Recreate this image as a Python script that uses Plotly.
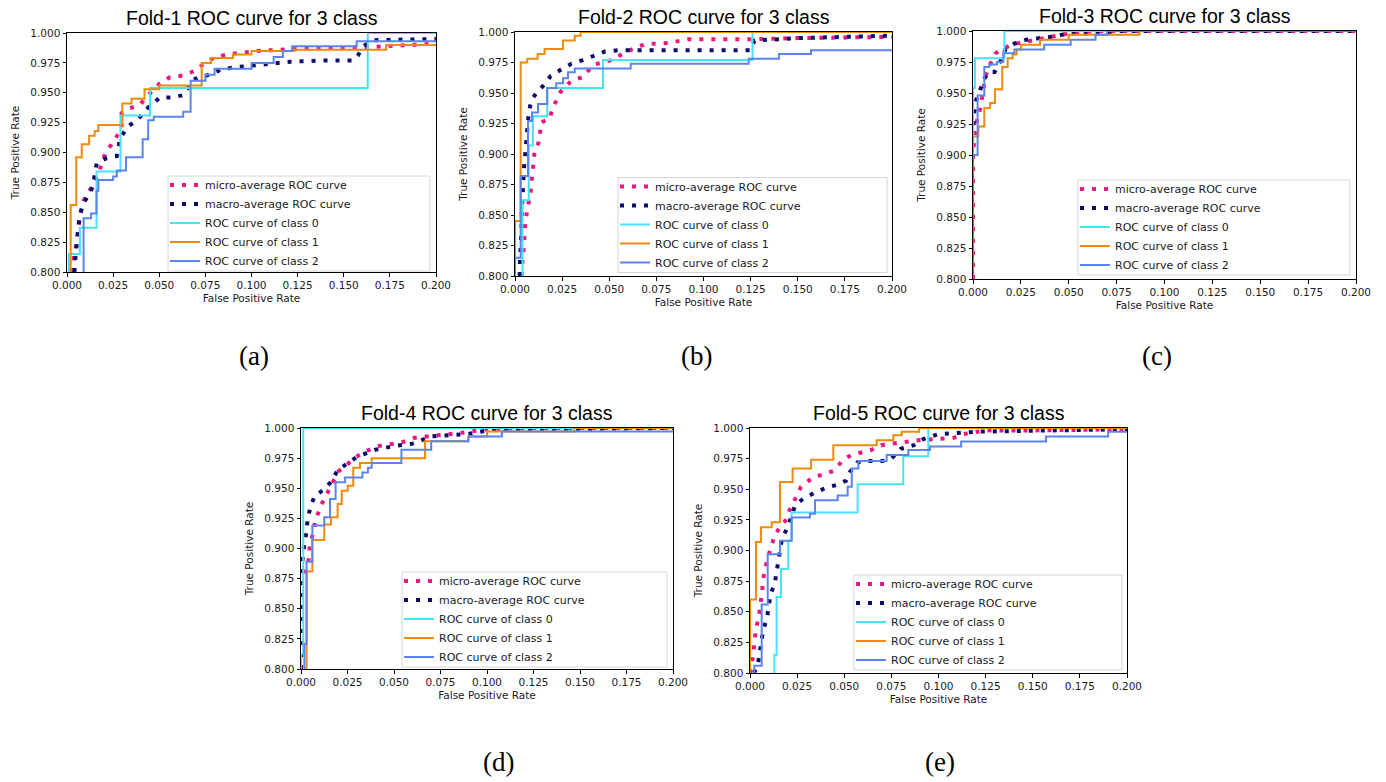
import plotly.graph_objects as go

W, H = 1386, 782

# ---------------- data ----------------
# Fold 1
f1_micro_fpr = [0.002, 0.0034, 0.0053, 0.007, 0.0098, 0.0143, 0.0188, 0.0206, 0.0251, 0.0296, 0.0296, 0.034, 0.0396, 0.044, 0.0504, 0.0558, 0.0612, 0.069, 0.0756, 0.081, 0.0866, 0.103, 0.13, 0.16, 0.2]
f1_micro_tpr = [0.800, 0.809, 0.826, 0.848, 0.863, 0.873, 0.890, 0.899, 0.909, 0.920, 0.933, 0.937, 0.940, 0.948, 0.958, 0.963, 0.964, 0.968, 0.976, 0.980, 0.982, 0.985, 0.987, 0.988, 0.991]
f1_macro_fpr = [0.004, 0.0043, 0.0067, 0.0085, 0.0139, 0.0161, 0.0211, 0.027, 0.0288, 0.0332, 0.0387, 0.0428, 0.0504, 0.0567, 0.063, 0.0685, 0.0766, 0.083, 0.0893, 0.0956, 0.103, 0.108, 0.1145, 0.121, 0.14, 0.155, 0.1576, 0.1607, 0.166, 0.2]
f1_macro_tpr = [0.800, 0.808, 0.845, 0.856, 0.871, 0.891, 0.895, 0.897, 0.912, 0.922, 0.928, 0.936, 0.946, 0.946, 0.948, 0.961, 0.965, 0.969, 0.971, 0.972, 0.973, 0.974, 0.9755, 0.976, 0.977, 0.977, 0.981, 0.989, 0.994, 0.995]
f1_c0_fpr = [0.001, 0.001, 0.007, 0.016, 0.029, 0.045, 0.163, 0.2]
f1_c0_tpr = [0.700, 0.815, 0.837, 0.884, 0.931, 0.954, 1.000, 1.000]
f1_c1_fpr = [0.002, 0.002, 0.005, 0.008, 0.012, 0.015, 0.017, 0.030, 0.035, 0.042, 0.050, 0.073, 0.078, 0.090, 0.100, 0.123, 0.173, 0.2]
f1_c1_tpr = [0.700, 0.856, 0.896, 0.907, 0.914, 0.918, 0.923, 0.941, 0.945, 0.953, 0.956, 0.975, 0.979, 0.982, 0.985, 0.986, 0.990, 0.990]
f1_c2_fpr = [0.009, 0.009, 0.013, 0.016, 0.017, 0.025, 0.027, 0.032, 0.041, 0.044, 0.047, 0.063, 0.067, 0.075, 0.080, 0.100, 0.112, 0.117, 0.122, 0.157, 0.2]
f1_c2_tpr = [0.700, 0.845, 0.849, 0.868, 0.877, 0.880, 0.885, 0.896, 0.911, 0.927, 0.930, 0.934, 0.960, 0.965, 0.970, 0.975, 0.980, 0.985, 0.989, 0.993, 0.993]

# Fold 2
f2_micro_fpr = [0.0035, 0.0037, 0.0048, 0.0055, 0.0083, 0.0095, 0.0104, 0.0127, 0.014, 0.0184, 0.0198, 0.0242, 0.0299, 0.036, 0.0414, 0.051, 0.0608, 0.0688, 0.0812, 0.0918, 0.125, 0.15, 0.2]
f2_micro_tpr = [0.800, 0.808, 0.825, 0.845, 0.869, 0.886, 0.902, 0.910, 0.926, 0.929, 0.937, 0.951, 0.960, 0.963, 0.973, 0.977, 0.985, 0.990, 0.991, 0.994, 0.994, 0.995, 0.996]
f2_macro_fpr = [0.0025, 0.0025, 0.0034, 0.0037, 0.0048, 0.006, 0.0073, 0.0087, 0.0118, 0.0157, 0.0189, 0.0242, 0.0299, 0.036, 0.0419, 0.0476, 0.0546, 0.125, 0.127, 0.15, 0.175, 0.2]
f2_macro_tpr = [0.800, 0.808, 0.837, 0.856, 0.889, 0.916, 0.934, 0.944, 0.951, 0.957, 0.964, 0.969, 0.974, 0.977, 0.981, 0.984, 0.985, 0.985, 0.993, 0.995, 0.996, 0.997]
f2_c0_fpr = [0.004, 0.004, 0.0073, 0.0095, 0.0171, 0.0467, 0.126, 0.2]
f2_c0_tpr = [0.700, 0.862, 0.907, 0.931, 0.954, 0.977, 1.000, 1.000]
f2_c1_fpr = [0.0, 0.0, 0.003, 0.0065, 0.012, 0.0157, 0.0255, 0.0317, 0.0348, 0.2]
f2_c1_tpr = [0.700, 0.845, 0.975, 0.978, 0.982, 0.986, 0.993, 0.997, 1.000, 1.000]
f2_c2_fpr = [0.0, 0.0, 0.003, 0.0069, 0.009, 0.0122, 0.0171, 0.0219, 0.0255, 0.0281, 0.0317, 0.0614, 0.124, 0.14, 0.157, 0.2]
f2_c2_tpr = [0.700, 0.815, 0.882, 0.927, 0.934, 0.941, 0.954, 0.958, 0.962, 0.967, 0.970, 0.974, 0.978, 0.982, 0.985, 0.985]

# Fold 3
f3_micro_fpr = [0.0, 0.0, 0.0007, 0.0024, 0.0037, 0.0045, 0.0066, 0.008, 0.0118, 0.015, 0.0202, 0.0263, 0.0324, 0.0393, 0.0463, 0.055, 0.065, 0.2]
f3_micro_tpr = [0.800, 0.900, 0.913, 0.931, 0.937, 0.946, 0.964, 0.970, 0.982, 0.985, 0.989, 0.991, 0.993, 0.995, 0.997, 0.999, 1.000, 1.000]
f3_macro_fpr = [0.0003, 0.0005, 0.0016, 0.0038, 0.0061, 0.0085, 0.0113, 0.0148, 0.0169, 0.0218, 0.0277, 0.0334, 0.0395, 0.0465, 0.0526, 0.0595, 0.0717, 0.0778, 0.2]
f3_macro_tpr = [0.924, 0.932, 0.944, 0.954, 0.962, 0.967, 0.967, 0.977, 0.985, 0.990, 0.993, 0.994, 0.995, 0.997, 0.998, 0.998, 0.999, 1.000, 1.000]
f3_c0_fpr = [0.0, 0.0, 0.001, 0.0164, 0.2]
f3_c0_tpr = [0.700, 0.954, 0.978, 1.000, 1.000]
f3_c1_fpr = [0.0, 0.0, 0.0028, 0.0059, 0.0089, 0.0115, 0.0153, 0.0181, 0.0207, 0.0228, 0.0251, 0.035, 0.05, 0.087, 0.2]
f3_c1_tpr = [0.700, 0.915, 0.923, 0.938, 0.942, 0.953, 0.971, 0.978, 0.981, 0.985, 0.989, 0.993, 0.997, 1.000, 1.000]
f3_c2_fpr = [0.0, 0.0, 0.0024, 0.0059, 0.0085, 0.0125, 0.0158, 0.0216, 0.0372, 0.051, 0.064, 0.070, 0.2]
f3_c2_tpr = [0.700, 0.900, 0.948, 0.971, 0.973, 0.975, 0.982, 0.985, 0.989, 0.993, 0.997, 1.000, 1.000]

# Fold 4
f4_micro_fpr = [0.0, 0.0, 0.0039, 0.0048, 0.0066, 0.0075, 0.0108, 0.0152, 0.0201, 0.025, 0.0296, 0.0353, 0.0416, 0.0541, 0.0613, 0.0738, 0.0864, 0.1, 0.12, 0.2]
f4_micro_tpr = [0.800, 0.870, 0.887, 0.904, 0.913, 0.922, 0.936, 0.949, 0.964, 0.970, 0.976, 0.981, 0.985, 0.988, 0.992, 0.994, 0.996, 0.999, 1.000, 1.000]
f4_macro_fpr = [0.0, 0.0, 0.001, 0.0022, 0.003, 0.0036, 0.0054, 0.0075, 0.0125, 0.0165, 0.0197, 0.0254, 0.03, 0.035, 0.04, 0.05, 0.06, 0.07, 0.08, 0.09, 0.1, 0.12, 0.2]
f4_macro_tpr = [0.800, 0.870, 0.895, 0.905, 0.915, 0.925, 0.936, 0.944, 0.949, 0.956, 0.965, 0.971, 0.976, 0.979, 0.982, 0.985, 0.987, 0.993, 0.994, 0.995, 0.998, 0.999, 1.000]
f4_c0_fpr = [0.0, 0.0, 0.0012, 0.2]
f4_c0_tpr = [0.700, 0.8125, 1.000, 1.000]
f4_c1_fpr = [0.003, 0.003, 0.0061, 0.0125, 0.0161, 0.0197, 0.0219, 0.0251, 0.0281, 0.0317, 0.038, 0.0667, 0.09, 0.1, 0.147, 0.2]
f4_c1_tpr = [0.700, 0.881, 0.907, 0.920, 0.926, 0.937, 0.948, 0.952, 0.967, 0.971, 0.975, 0.989, 0.993, 0.997, 1.000, 1.000]
f4_c2_fpr = [0.0018, 0.0018, 0.003, 0.0061, 0.0125, 0.0156, 0.0186, 0.0237, 0.033, 0.036, 0.038, 0.054, 0.070, 0.090, 0.108, 0.2]
f4_c2_tpr = [0.700, 0.821, 0.889, 0.919, 0.926, 0.941, 0.955, 0.959, 0.963, 0.967, 0.971, 0.982, 0.989, 0.993, 0.997, 0.997]

# Fold 5
f5_micro_fpr = [0.0, 0.0009, 0.0018, 0.0023, 0.003, 0.0053, 0.0065, 0.0076, 0.0106, 0.0133, 0.0159, 0.0186, 0.0207, 0.0271, 0.0336, 0.0389, 0.0442, 0.0501, 0.054, 0.0593, 0.0642, 0.0695, 0.0796, 0.0844, 0.0893, 0.1, 0.108, 0.113, 0.125, 0.15, 0.2]
f5_micro_tpr = [0.800, 0.806, 0.8155, 0.824, 0.834, 0.852, 0.867, 0.8835, 0.900, 0.913, 0.919, 0.924, 0.932, 0.952, 0.960, 0.962, 0.965, 0.975, 0.978, 0.980, 0.982, 0.986, 0.9875, 0.989, 0.990, 0.991, 0.992, 0.995, 0.998, 0.998, 0.999]
f5_macro_fpr = [0.002, 0.004, 0.005, 0.006, 0.007, 0.009, 0.010, 0.011, 0.013, 0.014, 0.015, 0.016, 0.017, 0.020, 0.022, 0.024, 0.028, 0.034, 0.040, 0.047, 0.051, 0.053, 0.057, 0.062, 0.070, 0.075, 0.080, 0.087, 0.092, 0.100, 0.120, 0.150, 0.2]
f5_macro_tpr = [0.800, 0.805, 0.815, 0.825, 0.835, 0.845, 0.855, 0.865, 0.872, 0.882, 0.892, 0.902, 0.910, 0.919, 0.928, 0.937, 0.942, 0.947, 0.951, 0.954, 0.957, 0.964, 0.972, 0.973, 0.973, 0.975, 0.983, 0.986, 0.991, 0.995, 0.997, 0.998, 0.999]
f5_c0_fpr = [0.0129, 0.0129, 0.0141, 0.0164, 0.0203, 0.0221, 0.0571, 0.0813, 0.0946, 0.2]
f5_c0_tpr = [0.700, 0.815, 0.862, 0.885, 0.908, 0.931, 0.954, 0.977, 1.000, 1.000]
f5_c1_fpr = [0.0, 0.0, 0.0032, 0.0058, 0.0115, 0.0159, 0.0226, 0.0324, 0.0442, 0.0672, 0.076, 0.0805, 0.0897, 0.2]
f5_c1_tpr = [0.700, 0.860, 0.907, 0.919, 0.923, 0.956, 0.967, 0.974, 0.986, 0.990, 0.994, 0.997, 1.000, 1.000]
f5_c2_fpr = [0.0023, 0.0023, 0.0062, 0.0094, 0.0159, 0.0221, 0.0318, 0.0345, 0.0465, 0.0518, 0.054, 0.0575, 0.0725, 0.084, 0.0955, 0.112, 0.157, 0.19, 0.2]
f5_c2_tpr = [0.700, 0.806, 0.856, 0.897, 0.908, 0.927, 0.930, 0.941, 0.945, 0.952, 0.967, 0.973, 0.978, 0.982, 0.985, 0.989, 0.993, 0.997, 0.997]

fold_titles = ["Fold-1 ROC curve for 3 class", "Fold-2 ROC curve for 3 class",
               "Fold-3 ROC curve for 3 class", "Fold-4 ROC curve for 3 class",
               "Fold-5 ROC curve for 3 class"]
panel_labels = ["(a)", "(b)", "(c)", "(d)", "(e)"]
series_names = ["micro-average ROC curve", "macro-average ROC curve",
                "ROC curve of class 0", "ROC curve of class 1", "ROC curve of class 2"]
x_ticks = [0.0, 0.025, 0.05, 0.075, 0.1, 0.125, 0.15, 0.175, 0.2]
y_ticks = [0.8, 0.825, 0.85, 0.875, 0.9, 0.925, 0.95, 0.975, 1.0]

folds = [
    [(f1_micro_fpr, f1_micro_tpr), (f1_macro_fpr, f1_macro_tpr), (f1_c0_fpr, f1_c0_tpr), (f1_c1_fpr, f1_c1_tpr), (f1_c2_fpr, f1_c2_tpr)],
    [(f2_micro_fpr, f2_micro_tpr), (f2_macro_fpr, f2_macro_tpr), (f2_c0_fpr, f2_c0_tpr), (f2_c1_fpr, f2_c1_tpr), (f2_c2_fpr, f2_c2_tpr)],
    [(f3_micro_fpr, f3_micro_tpr), (f3_macro_fpr, f3_macro_tpr), (f3_c0_fpr, f3_c0_tpr), (f3_c1_fpr, f3_c1_tpr), (f3_c2_fpr, f3_c2_tpr)],
    [(f4_micro_fpr, f4_micro_tpr), (f4_macro_fpr, f4_macro_tpr), (f4_c0_fpr, f4_c0_tpr), (f4_c1_fpr, f4_c1_tpr), (f4_c2_fpr, f4_c2_tpr)],
    [(f5_micro_fpr, f5_micro_tpr), (f5_macro_fpr, f5_macro_tpr), (f5_c0_fpr, f5_c0_tpr), (f5_c1_fpr, f5_c1_tpr), (f5_c2_fpr, f5_c2_tpr)],
]

# ---------------- layout / styling ----------------
# plot-area boxes in pixels: (left, right, top, bottom)
axes_px = [(67, 436, 33, 272), (515, 892, 32, 276), (973, 1356, 31, 279),
           (301, 673, 428, 669), (750, 1127, 428, 673)]
# legend frame: (left, right, vertical centre of the rows)
legend_px = [(168, 430, 223), (618, 887, 224.5), (1078, 1350, 227),
             (402, 667, 619), (854, 1122, 622)]
label_px = [(254, 356), (696, 356), (1157, 356), (498, 762), (940, 762)]

colors = ["#e8187e", "#0c0c6a", "#45e2f8", "#f08a0c", "#5b84ee"]
TICKFONT = dict(family="DejaVu Sans", size=10.5, color="#1a1a1a")

fig = go.Figure()

for i, fold in enumerate(folds):
    n = "" if i == 0 else str(i + 1)
    leg = "legend" + n
    for k, (xs, ys) in enumerate(fold):
        if k < 2:
            line = dict(color=colors[k], width=4, dash="4px,8px", shape="linear")
        else:
            line = dict(color=colors[k], width=2, shape="hv")
        fig.add_trace(go.Scatter(
            x=xs, y=ys, mode="lines", name=series_names[k], line=line,
            xaxis="x" + n, yaxis="y" + n, legend=leg, showlegend=True,
            hoverinfo="skip"))

    l, r, t, b = axes_px[i]
    common = dict(ticks="outside", ticklen=3.5, tickwidth=1, tickcolor="black",
                  showline=True, mirror=True, linecolor="black", linewidth=1,
                  showgrid=False, zeroline=False, tickfont=TICKFONT,
                  tickformat=".3f", automargin=False)
    fig.layout["xaxis" + n] = dict(
        domain=[l / W, r / W], anchor="y" + n, range=[0, 0.2], tickvals=x_ticks,
        title=dict(text="False Positive Rate", font=TICKFONT, standoff=4), **common)
    fig.layout["yaxis" + n] = dict(
        domain=[1 - b / H, 1 - t / H], anchor="x" + n, range=[0.8, 1.0], tickvals=y_ticks,
        title=dict(text="True Positive Rate", font=TICKFONT, standoff=8), **common)

    # legend frame + legend
    ll, lr, lc = legend_px[i]
    fig.add_shape(type="rect", xref="paper", yref="paper",
                  x0=ll / W, x1=lr / W, y0=1 - (lc + 48) / H, y1=1 - (lc - 47) / H,
                  line=dict(color="#d6d6d6", width=1),
                  fillcolor="rgba(255,255,255,0.8)", layer="above")
    fig.layout[leg] = dict(
        x=(ll - 3) / W, y=1 - (lc - 52.5) / H, xanchor="left", yanchor="top",
        bgcolor="rgba(0,0,0,0)", borderwidth=0, itemwidth=30,
        font=dict(family="DejaVu Sans", size=11, color="#1a1a1a"),
        tracegroupgap=0)

    # subplot title
    fig.add_annotation(text=fold_titles[i], xref="paper", yref="paper",
                       x=(l + r) / 2 / W, y=1 - (t - 15) / H,
                       xanchor="center", yanchor="middle", showarrow=False,
                       font=dict(family="Liberation Sans", size=19.5, color="black"))
    # panel label
    lx, ly = label_px[i]
    fig.add_annotation(text=panel_labels[i], xref="paper", yref="paper",
                       x=lx / W, y=1 - ly / H, xanchor="center", yanchor="middle",
                       showarrow=False,
                       font=dict(family="Liberation Serif", size=27, color="black"))

fig.update_layout(template="none", width=W, height=H, autosize=False,
                  margin=dict(l=0, r=0, t=0, b=0, pad=0),
                  paper_bgcolor="white", plot_bgcolor="white")

fig.write_html("out.html", config={"displayModeBar": False},
               post_script="document.body.style.margin='0';document.body.style.overflow='hidden';")
